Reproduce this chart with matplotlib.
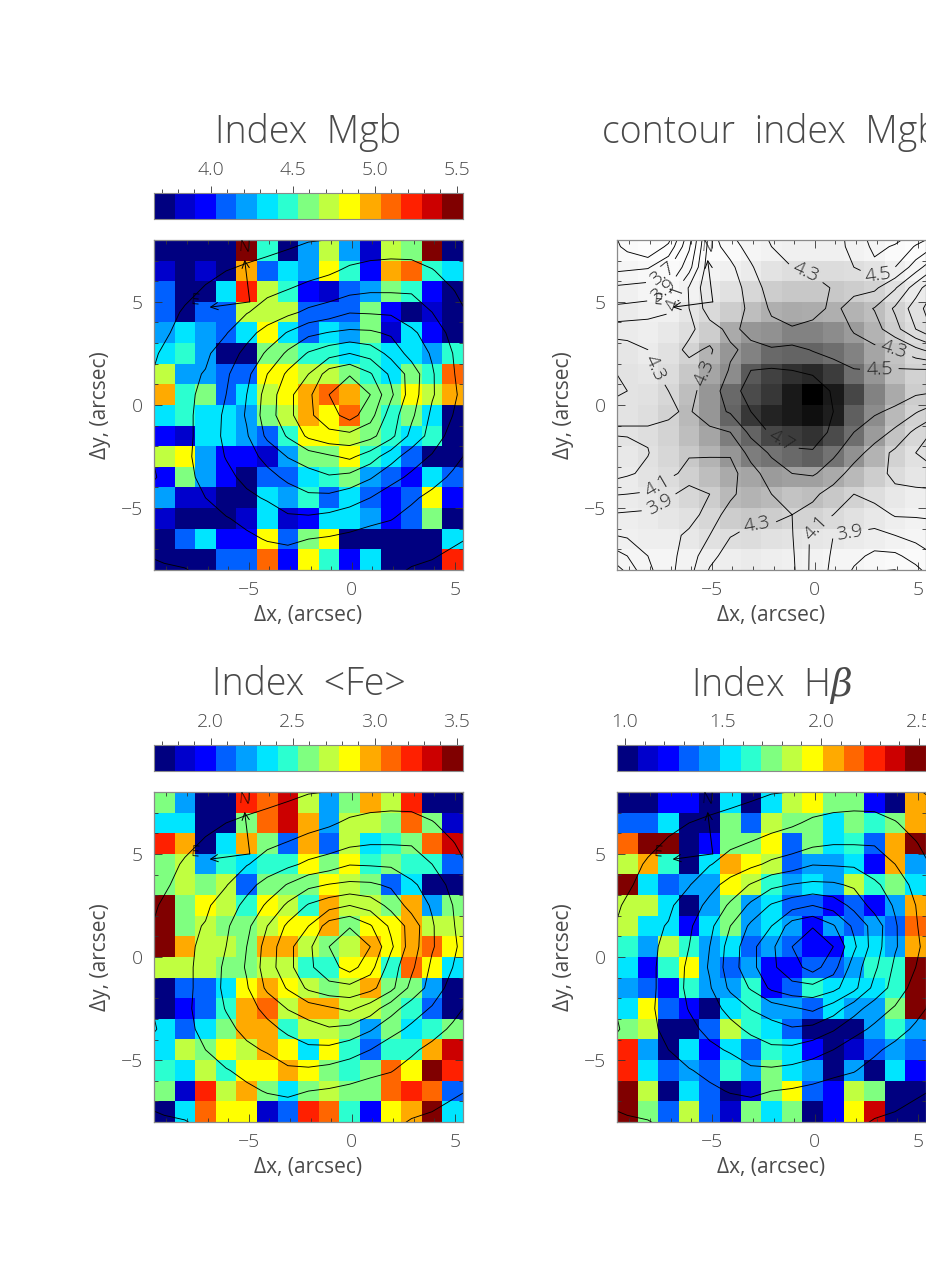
import numpy as np
import matplotlib
matplotlib.use('Agg')
import matplotlib.pyplot as plt
from matplotlib.colors import ListedColormap
from matplotlib.ticker import MultipleLocator

plt.rcParams['font.family'] = ['Open Sans', 'DejaVu Sans']
plt.rcParams['font.weight'] = 300
plt.rcParams['mathtext.fontset'] = 'dejavuserif'

W, H = 926, 1286
TXT = '#4a4a4a'
FRAME = '#8a8a8a'

jet15 = ['#000080', '#0000cc', '#0000ff', '#0060ff', '#00a0ff', '#00e5ff', '#2bffd0', '#7fff80',
         '#c0ff40', '#ffff00', '#ffaa00', '#ff6600', '#ff2000', '#cc0000', '#800000']

mgb_bins = [
    [0,0,0,0,14,6,0,4,8,4,1,8,7,14,0],
    [1,0,1,0,10,3,5,4,9,6,2,10,11,6,5],
    [3,0,0,5,12,8,6,2,1,3,4,7,6,2,0],
    [3,0,3,3,8,8,8,3,3,3,7,2,0,1,0],
    [4,5,4,3,5,9,5,3,5,4,7,1,5,2,0],
    [5,6,4,0,0,7,7,6,6,5,6,5,5,4,6],
    [8,4,4,3,3,9,9,8,8,7,6,5,7,6,11],
    [10,6,7,3,5,8,9,10,11,10,7,7,9,8,10],
    [5,6,5,5,4,7,8,10,9,11,7,6,7,5,0],
    [2,1,5,5,4,3,6,9,9,8,7,6,5,6,0],
    [8,9,4,2,2,1,4,7,7,9,6,5,3,0,0],
    [2,7,4,2,0,3,3,5,6,7,4,3,2,5,3],
    [4,1,1,0,0,5,4,6,3,5,3,2,3,9,2],
    [1,0,0,0,1,5,1,2,5,5,4,2,3,7,0],
    [0,3,5,2,2,9,3,7,9,0,0,0,0,0,5],
    [0,0,0,3,3,11,2,9,6,2,5,0,0,0,12],
]
fe_bins = [
    [7,4,0,0,12,11,13,8,4,7,10,8,12,0,0],
    [5,5,0,0,7,11,13,10,4,8,8,7,11,7,1],
    [12,10,0,5,10,7,3,10,3,8,5,6,7,11,13],
    [7,8,4,6,5,6,6,9,7,9,6,7,6,6,3],
    [7,8,7,8,3,7,7,7,9,8,7,3,5,0,0],
    [14,7,9,8,6,9,8,6,10,8,8,7,10,4,7],
    [14,7,8,7,7,8,9,9,10,7,9,9,10,8,8],
    [14,10,8,8,7,10,10,8,7,8,10,9,10,11,9],
    [8,8,8,7,7,8,8,6,6,9,9,6,11,9,5],
    [0,3,3,5,9,10,9,8,7,8,10,7,7,4,0],
    [0,2,3,6,10,11,8,10,10,8,8,7,6,3,0],
    [5,3,5,7,10,10,6,8,8,7,4,7,5,6,7],
    [5,8,7,9,8,10,9,5,9,6,3,6,6,10,13],
    [6,5,8,6,9,9,10,9,7,6,7,11,9,14,12],
    [7,1,12,8,10,7,5,7,8,7,7,11,12,11,3],
    [0,5,11,9,9,1,3,12,11,6,2,9,10,14,5],
]
hb_bins = [
    [0,0,2,2,0,5,0,5,8,9,7,7,2,0,10],
    [3,3,5,0,0,7,3,8,7,7,5,7,6,7,10],
    [11,14,14,0,2,7,7,9,3,7,5,6,3,10,14],
    [8,10,6,0,5,10,9,8,3,4,4,5,2,10,4],
    [14,5,3,4,4,9,8,6,4,5,4,8,6,7,5],
    [8,8,5,0,4,7,4,5,3,3,2,3,2,4,10],
    [8,5,5,2,5,7,4,5,4,2,4,3,4,3,11],
    [6,4,8,6,4,5,3,4,3,2,2,5,5,4,10],
    [5,2,6,9,4,3,4,2,2,3,3,4,6,6,14],
    [4,3,2,6,4,4,6,2,3,6,5,5,5,6,14],
    [5,9,3,2,0,5,6,4,4,3,5,4,4,7,14],
    [7,8,0,0,3,8,6,5,3,0,0,0,4,6,4],
    [12,4,0,5,2,5,3,6,5,2,0,1,3,4,3],
    [12,5,3,4,3,6,4,7,5,4,0,4,0,5,2],
    [14,8,0,5,3,0,1,7,9,3,2,8,7,0,0],
    [14,7,3,8,3,1,7,5,7,0,2,9,13,0,0],
]
# colour-bar ranges
mgb_range = (3.654, 5.538)
fe_range = (1.654, 3.538)
hb_range = (0.959, 2.536)

# smoothed Mgb map as grey levels, top row first
mgb_grey = [
    [250,252,253,253,252,250,245,242,240,240,240,242,245,250,252],
    [245,248,250,248,243,240,235,228,222,220,220,222,228,238,245],
    [240,245,248,242,232,225,215,205,200,200,200,205,212,225,235],
    [235,240,240,230,218,205,190,175,170,172,175,180,190,210,225],
    [235,238,232,222,205,170,150,145,130,130,140,155,180,205,220],
    [230,235,225,212,180,150,130,105,100,100,110,130,165,195,215],
    [228,230,220,200,165,140,90,65,48,40,60,110,150,190,210],
    [228,225,215,190,150,105,75,55,25,0,25,70,130,170,205],
    [228,222,210,185,150,100,55,35,25,15,30,95,140,185,210],
    [228,222,212,190,165,125,100,70,60,50,75,110,155,195,215],
    [232,225,215,200,180,150,125,115,105,95,115,145,180,210,225],
    [235,228,220,208,190,170,165,155,160,160,170,185,205,220,230],
    [235,232,225,215,205,185,180,185,195,190,200,210,222,232,238],
    [238,235,230,225,215,205,200,205,212,212,218,225,232,238,242],
    [240,238,238,232,225,222,220,225,228,230,232,235,238,242,245],
    [245,245,245,243,240,238,235,238,240,242,245,245,248,250,250],
]
# Mgb index behind the labelled contours, top row first
mgb_contour = [
    [3.25,3.1,3.35,3.87,4.6,4.41,4.2,4.3,4.35,4.4,4.43,4.55,4.75,4.68,4.48],
    [3.45,3.48,3.67,4.02,4.65,4.55,4.33,4.1,4.3,4.36,4.45,4.5,4.65,4.5,4.2],
    [3.75,3.78,3.9,4.32,4.65,4.6,4.42,4.2,4.15,4.2,4.32,4.37,4.34,4.12,3.8],
    [3.95,3.97,4.05,4.3,4.6,4.62,4.45,4.27,4.12,4.2,4.36,4.2,4.09,3.87,3.6],
    [4.2,4.22,4.25,4.25,4.42,4.55,4.44,4.35,4.33,4.38,4.42,4.28,4.18,3.97,3.7],
    [4.38,4.3,4.2,4.35,4.27,4.47,4.55,4.52,4.55,4.49,4.45,4.38,4.34,4.3,4.15],
    [4.45,4.37,4.2,4.22,4.32,4.52,4.7,4.72,4.7,4.62,4.56,4.51,4.5,4.52,4.52],
    [4.5,4.35,4.3,4.24,4.4,4.6,4.8,4.85,4.9,4.95,4.65,4.6,4.6,4.58,4.55],
    [4.37,4.37,4.32,4.28,4.42,4.52,4.7,4.85,4.95,5.0,4.7,4.58,4.52,4.47,4.32],
    [4.27,4.27,4.27,4.26,4.25,4.3,4.55,4.73,4.85,4.9,4.62,4.5,4.42,4.25,4.05],
    [4.4,4.31,4.15,4.12,4.15,4.12,4.37,4.53,4.65,4.66,4.53,4.4,4.2,4.06,3.9],
    [4.33,4.25,4.15,4.04,3.92,4.03,4.22,4.4,4.5,4.52,4.42,4.2,4.18,4.05,4.0],
    [4.1,4.08,3.95,3.8,3.9,4.06,4.2,4.3,4.35,4.35,4.2,4.1,4.18,4.15,4.15],
    [3.87,3.85,3.8,3.8,4.0,4.18,4.25,4.26,4.3,4.22,4.1,4.0,4.0,4.12,4.12],
    [3.73,3.78,3.82,3.95,4.1,4.29,4.35,4.35,4.31,4.06,3.9,3.88,3.85,3.9,3.97],
    [3.5,3.7,3.83,4.0,4.23,4.4,4.42,4.42,4.33,4.05,3.87,3.76,3.65,3.66,3.78],
]
mgb_contour_levels = [3.3, 3.5, 3.7, 3.9, 4.1, 4.3, 4.5, 4.7]
# surface brightness contours (relative level), top row first
flux = [
    [0.3,0.4,0.5,0.6,0.7,0.85,1.02,1.2,1.3,1.6,1.7,1.75,1.75,1.6,1.3],
    [0.4,0.6,0.8,1.0,1.18,1.35,1.53,1.7,1.88,2.15,2.3,2.35,2.3,2.05,1.7],
    [0.5,0.8,1.1,1.4,1.6,1.85,2.05,2.3,2.5,2.8,2.95,2.95,2.95,2.5,2.05],
    [0.7,1.1,1.38,1.66,1.95,2.35,2.77,3.2,3.5,3.95,3.9,3.85,3.4,3.0,2.4],
    [0.9,1.25,1.6,1.95,2.65,3.38,4.07,4.75,5.05,5.2,5.15,4.85,4.2,3.5,2.75],
    [1.1,1.45,1.85,2.45,3.3,4.15,5.2,6.1,6.6,7.0,6.6,5.7,4.6,3.9,3.0],
    [1.3,1.8,2.05,2.85,3.75,5.0,6.2,7.0,8.5,8.9,8.1,6.8,5.6,4.1,3.1],
    [1.5,1.85,2.15,3.0,4.0,5.4,6.7,7.8,9.0,10.0,9.0,7.2,5.5,4.1,3.2],
    [1.5,1.8,2.3,3.2,4.1,5.5,6.7,7.8,8.6,9.4,8.4,6.5,5.2,3.8,3.0],
    [1.3,1.7,2.45,3.2,3.9,5.2,6.1,7.2,7.7,7.7,7.3,6.3,4.7,3.6,2.6],
    [1.3,1.8,2.4,3.05,3.6,4.3,5.05,5.5,5.85,6.2,5.5,4.4,3.5,2.9,2.3],
    [1.2,1.75,2.25,2.75,3.25,3.7,4.2,4.6,4.9,4.7,4.1,3.35,2.8,2.35,1.85],
    [1.4,1.7,2.0,2.4,2.8,3.1,3.5,3.8,3.75,3.4,3.0,2.45,2.15,1.75,1.4],
    [1.4,1.55,1.75,1.95,2.2,2.5,2.85,2.85,2.7,2.5,2.2,2.05,1.7,1.4,1.2],
    [1.2,1.35,1.5,1.65,1.85,2.05,2.15,2.0,1.9,1.75,1.65,1.5,1.4,1.25,1.1],
    [1.03,1.1,1.25,1.4,1.5,1.6,1.65,1.6,1.5,1.4,1.35,1.25,1.1,1.0,0.85],
]
flux_levels = [1, 2, 3, 4, 5, 6, 7, 8, 9]
x_tick_values = [-5, 0, 5]
y_tick_values = [-5, 0, 5]

XLIM = (-9.6, 5.4)
YLIM = (-8.0, 8.0)
xc = XLIM[0] + 0.5 + np.arange(15)
yc = YLIM[1] - 0.5 - np.arange(16)


def padded(z):
    z = np.pad(np.array(z, float), 1, mode='reflect', reflect_type='odd')
    return z


xp = np.r_[xc[0] - 1, xc, xc[-1] + 1]
yp = np.r_[yc[0] + 1, yc, yc[-1] - 1]

fig = plt.figure(figsize=(W / 100, H / 100), dpi=100)


def pix_axes(x0, y0, x1, y1):
    return fig.add_axes([x0 / W, 1 - y1 / H, (x1 - x0) / W, (y1 - y0) / H])


def fmt_int(v, _=None):
    return f'\u2212{abs(int(v))}' if v < 0 else f'{int(v)}'


def style_map(ax):
    ax.set_xlim(*XLIM)
    ax.set_ylim(*YLIM)
    ax.set_xticks(x_tick_values)
    ax.set_yticks(y_tick_values)
    ax.set_xticklabels([fmt_int(v) for v in x_tick_values])
    ax.set_yticklabels([fmt_int(v) for v in y_tick_values])
    ax.xaxis.set_minor_locator(MultipleLocator(1))
    ax.yaxis.set_minor_locator(MultipleLocator(1))
    ax.tick_params(which='major', direction='in', length=6, width=0.6, top=True, right=True,
                   color='#333333', labelcolor=TXT, labelsize=14, pad=8)
    ax.tick_params(which='minor', direction='in', length=3, width=0.6, top=True, right=True, color='#333333')
    for s in ax.spines.values():
        s.set_color(FRAME)
        s.set_linewidth(0.9)
    ax.set_xlabel('\u0394x, (arcsec)', color=TXT, fontsize=15, labelpad=4)
    ax.set_ylabel('\u0394y, (arcsec)', color=TXT, fontsize=15, labelpad=7)


def north_east(ax):
    kw = dict(arrowstyle='->', lw=0.7, color='black', mutation_scale=13, shrinkA=0, shrinkB=0)
    ax.annotate('', xy=(-5.2, 7.04), xytext=(-4.95, 5.0), arrowprops=kw)
    ax.annotate('', xy=(-6.9, 4.74), xytext=(-4.95, 5.0), arrowprops=kw)
    ax.text(-5.2, 7.62, 'N', rotation=-5, ha='center', va='center', fontsize=11, color='black')
    ax.text(-7.6, 5.05, 'E', rotation=-5, ha='center', va='center', fontsize=11, color='black')


def colour_map(x0, y0, bins, rng, title, tvals):
    ax = pix_axes(x0, y0, x0 + 309, y0 + 330)
    v = np.array(bins, float)
    ax.imshow(v, cmap=ListedColormap(jet15), vmin=-0.5, vmax=14.5, extent=[*XLIM, *YLIM],
              aspect='auto', interpolation='nearest', origin='upper')
    ax.contour(xp, yp, padded(flux), levels=flux_levels, colors='black', linewidths=0.65)
    style_map(ax)
    north_east(ax)
    # colour bar
    cb = pix_axes(x0, y0 - 47, x0 + 309, y0 - 21)
    cb.imshow(np.arange(15)[None, :], cmap=ListedColormap(jet15), vmin=-0.5, vmax=14.5,
              extent=[rng[0], rng[1], 0, 1], aspect='auto', interpolation='nearest')
    cb.set_xlim(*rng)
    cb.set_yticks([])
    cb.xaxis.tick_top()
    cb.set_xticks(tvals)
    cb.set_xticklabels([f'{t:.1f}' for t in tvals])
    cb.xaxis.set_minor_locator(MultipleLocator(0.1))
    cb.tick_params(which='major', direction='out', length=5, width=0.6, color='#333333',
                   labelcolor=TXT, labelsize=14, pad=5)
    cb.tick_params(which='minor', direction='out', length=3, width=0.6, color='#333333')
    for s in cb.spines.values():
        s.set_color(FRAME)
        s.set_linewidth(0.8)
    fig.text((x0 + 154.5) / W, 1 - (y0 - 107) / H, title, ha='center', va='center',
             fontsize=27, color=TXT)


colour_map(154, 240, mgb_bins, mgb_range, 'Index  Mgb', [4.0, 4.5, 5.0, 5.5])
colour_map(154, 792, fe_bins, fe_range, 'Index  <Fe>', [2.0, 2.5, 3.0, 3.5])
colour_map(617, 792, hb_bins, hb_range, 'Index  H$\\beta$', [1.0, 1.5, 2.0, 2.5])

# grey contour panel
ax = pix_axes(617, 240, 926, 570)
ax.imshow(np.array(mgb_grey, float), cmap='gray', vmin=0, vmax=255, extent=[*XLIM, *YLIM],
          aspect='auto', interpolation='nearest', origin='upper')
cs = ax.contour(xp, yp + 0.18, padded(mgb_contour), levels=mgb_contour_levels,
                colors='black', linewidths=0.65)
style_map(ax)
north_east(ax)


def z5(X, Y):
    return (XLIM[0] + (X - 21) / 62, YLIM[1] - (Y - 15) / 62)


label_spots = [(165, 125), (150, 150), (180, 185), (135, 400), (290, 415), (595, 100), (805, 118),
               (855, 345), (810, 400), (515, 620), (140, 750), (145, 800), (445, 910), (628, 890), (720, 895)]
ax.clabel(cs, manual=[z5(*p) for p in label_spots],
          fmt='%.1f', fontsize=14, inline=True, inline_spacing=6, colors='#222222')
ax.set_xlim(*XLIM)
ax.set_ylim(*YLIM)
fig.text(771 / W, 1 - 133 / H, 'contour  index  Mgb', ha='center', va='center', fontsize=27, color=TXT)

fig.savefig('out.png', dpi=100)
